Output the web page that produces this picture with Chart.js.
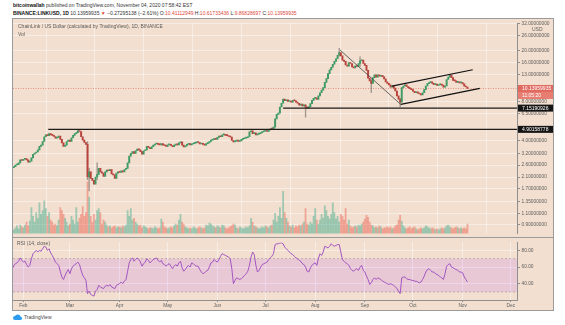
<!DOCTYPE html>
<html>
<head>
<meta charset="utf-8">
<script src="https://cdn.jsdelivr.net/npm/chart.js@4.4.0/dist/chart.umd.min.js"></script>
<style>
  body { margin: 0; background: #fff; width: 565px; height: 325px; overflow: hidden; position: relative;
         font-family: 'Liberation Sans', Arial, sans-serif; }
  .hdr { position: absolute; left: 13px; font-size: 5px; line-height: 6px; color: #333; white-space: nowrap; }
  .hdr b { color: #111; }
  .red { color: #e0463c; }
  #frame { position: absolute; left: 12px; top: 18px; width: 542px; height: 293px; box-sizing: border-box;
           border: 1px solid #9a9a9a; background: #f2dfcf; }
  #sep { position: absolute; left: 13px; top: 237px; width: 540px; height: 1px; background: #9a9a9a; }
  canvas { position: absolute; left: 13px; }
  #price { top: 19px; }
  #rsi { top: 238px; }
  #logo { position: absolute; left: 13px; top: 314px; font-size: 5px; color: #444; display: flex; align-items: center; gap: 2px; }
</style>
</head>
<body>
<div class="hdr" style="top:2px"><b>bitcoinwallah</b> published on TradingView.com, November 04, 2020 07:58:42 EST</div>
<div class="hdr" style="top:9.5px"><b>BINANCE:LINKUSD, 1D</b> 10.13959935 <span class="red">▼</span> −0.27295138 (−2.61%) O:<span class="red">10.41112949</span> H:<span class="red">10.61733436</span> L:<span class="red">9.86828697</span> C:<span class="red">10.13959935</span></div>
<div id="frame"></div>
<canvas id="price" width="540" height="219"></canvas>
<canvas id="rsi" width="540" height="72"></canvas>
<div id="sep"></div>
<div id="logo"><svg width="9" height="6" viewBox="0 0 18 12"><path d="M4 12 A4 4 0 0 1 4 4 A6 6 0 0 1 15 5 A3.5 3.5 0 0 1 14 12 Z" fill="#2d9cf0"/></svg><span>TradingView</span></div>
<script>
// day 0 = Feb 1 2020, first candle Jan 25
const firstDay = -7;
const firstOpen = 2.45;

const closes = [
  // Jan 25-31
  2.48, 2.52, 2.60, 2.62, 2.70, 2.85, 2.82,
  // Feb
  2.88, 2.92, 2.85, 2.74, 2.78, 2.95, 3.15, 3.22, 3.28, 3.40, 3.62, 3.70, 3.95, 4.30, 4.45,
  4.38, 4.55, 4.45, 4.40, 4.32, 4.20, 4.25, 4.35, 4.10, 3.85, 3.62, 3.70, 3.95, 4.05,
  // Mar
  3.95, 4.22, 4.40, 4.55, 4.62, 4.80, 4.72, 4.30, 4.05, 3.88, 3.75, 2.10, 2.30, 2.05, 1.98, 1.85,
  2.10, 2.20, 2.45, 2.30, 2.25, 2.12, 2.30, 2.38, 2.35, 2.40, 2.22, 2.18, 2.05, 2.25, 2.30,
  // Apr
  2.28, 2.35, 2.30, 2.40, 2.45, 2.70, 3.05, 3.20, 3.30, 3.20, 3.35, 3.45, 3.40, 3.30, 3.15,
  3.35, 3.40, 3.62, 3.55, 3.48, 3.60, 3.70, 3.78, 3.82, 3.75, 3.72, 3.80, 3.70, 3.68, 3.62,
  // May
  3.72, 3.75, 3.68, 3.60, 3.70, 3.78, 3.72, 3.85, 3.92, 3.70, 3.58, 3.65, 3.75, 3.80, 3.72, 3.78,
  3.82, 3.85, 3.90, 3.88, 3.78, 3.80, 3.75, 3.70, 3.80, 3.85, 3.95, 4.05, 4.08, 4.15, 4.10,
  // Jun
  4.25, 4.35, 4.30, 4.45, 4.48, 4.40, 4.38, 4.32, 4.28, 4.02, 3.92, 3.98, 4.05, 3.95, 4.00,
  4.10, 4.15, 4.20, 4.22, 4.30, 4.70, 4.78, 4.55, 4.60, 4.45, 4.50, 4.55, 4.62, 4.70, 4.75,
  // Jul
  4.78, 4.72, 4.85, 4.95, 4.92, 5.10, 5.90, 6.40, 6.55, 7.30, 7.80, 8.40, 8.15, 8.30, 8.05, 8.10,
  7.95, 8.20, 8.15, 7.95, 7.80, 7.55, 7.70, 7.45, 7.55, 7.30, 7.15, 7.35, 7.75, 8.20, 8.50,
  // Aug
  8.60, 8.35, 8.90, 9.40, 9.85, 10.30, 11.30, 12.10, 13.20, 14.10, 14.80, 15.60, 16.40, 17.20, 18.30, 19.20,
  18.10, 16.80, 16.40, 15.40, 15.10, 16.10, 15.80, 14.90, 14.60, 15.20, 15.00, 15.80, 16.60, 16.80, 15.80,
  // Sep
  15.30, 14.00, 12.20, 11.60, 11.10, 12.30, 12.90, 12.40, 12.90, 12.60, 12.80, 12.50, 12.00, 11.40, 11.10,
  10.80, 10.40, 10.60, 10.20, 9.70, 8.90, 8.40, 7.95, 10.30, 10.60, 10.80, 10.50, 10.30, 10.10, 9.95,
  // Oct
  9.65, 9.40, 9.55, 9.35, 9.20, 9.05, 9.40, 9.95, 10.60, 11.05, 11.25, 11.40, 11.10, 10.85, 10.95, 10.70,
  10.80, 10.90, 10.75, 10.40, 10.60, 11.90, 12.40, 12.85, 12.30, 11.70, 11.60, 11.30, 11.40, 11.20, 11.25,
  // Nov 1-4
  11.00, 10.55, 10.41, 10.14,
];

const volumes = [
  5, 4, 6, 8, 5, 9, 7,
  6, 9, 12, 8, 13, 27, 18, 12, 22, 16, 32, 20, 24, 34, 26, 18, 22, 14, 12, 9, 10, 8, 14, 27, 24, 20, 16, 12, 8,
  10, 18, 14, 10, 27, 12, 16, 20, 28, 18, 22, 54, 38, 18, 12, 20, 14, 24, 26, 22, 10, 14, 12, 9, 7, 8, 6, 7, 8, 6, 7,
  7, 6, 8, 7, 9, 24, 18, 26, 14, 16, 12, 10, 8, 9, 6, 8, 7, 6, 5, 6, 6, 5, 7, 6, 5, 6, 15, 12, 7, 6,
  5, 6, 7, 6, 8, 10, 9, 14, 20, 12, 10, 7, 6, 5, 6, 5, 7, 6, 5, 6, 7, 6, 5, 6, 9, 8, 11, 10, 8, 7, 6,
  8, 7, 6, 9, 8, 6, 5, 6, 7, 8, 10, 9, 6, 5, 7, 6, 5, 6, 7, 6, 8, 16, 12, 8, 7, 6, 5, 6, 7, 6,
  8, 7, 6, 8, 9, 14, 21, 12, 18, 27, 16, 44, 22, 16, 12, 8, 7, 9, 6, 8, 7, 9, 8, 10, 12, 26, 10, 9, 12, 10, 18,
  26, 14, 10, 14, 20, 16, 29, 24, 18, 15, 20, 32, 22, 15, 18, 12, 20, 18, 14, 26, 10, 14, 8, 6, 7, 8, 7, 9, 8, 10, 12,
  15, 19, 17, 12, 9, 8, 6, 7, 6, 8, 7, 5, 6, 6, 7, 6, 7, 5, 6, 8, 9, 14, 19, 13, 8, 6, 5, 6, 7, 5,
  6, 7, 5, 4, 5, 6, 5, 6, 8, 7, 6, 5, 6, 5, 4, 5, 4, 5, 6, 5, 6, 8, 9, 7, 6, 5, 6, 7, 6, 5, 6,
  5, 6, 5, 10,
];

const rsi = [
  60, 62, 64, 65, 67, 71, 68,
  66, 67, 63, 60, 62, 70, 76, 78, 80, 78, 80, 79, 82, 85, 84, 80, 82, 77, 74, 70, 66, 64, 62, 55, 48, 45, 50, 54, 57,
  52, 58, 61, 63, 64, 66, 63, 56, 50, 47, 44, 28, 31, 27, 26, 25, 31, 33, 38, 36, 35, 34, 37, 38, 37, 39, 36, 35, 34, 38, 39,
  40, 42, 40, 43, 45, 55, 65, 69, 71, 67, 69, 71, 69, 66, 61, 64, 66, 70, 68, 65, 67, 69, 70, 71, 68, 66, 68, 64, 63, 61,
  63, 64, 61, 58, 61, 63, 61, 65, 67, 59, 55, 57, 60, 62, 60, 65, 64, 62, 61, 61, 57, 54, 52, 53, 55, 56, 60, 65, 66, 69, 67,
  66, 69, 73, 76, 75, 74, 73, 72, 70, 58, 40, 44, 47, 46, 45, 46, 48, 50, 52, 55, 62, 72, 78, 75, 62, 54, 56, 60, 63, 64,
  65, 66, 69, 71, 73, 76, 87, 88, 88, 89, 89, 88, 84, 82, 80, 78, 76, 75, 73, 71, 70, 68, 67, 64, 63, 60, 55, 54, 59, 62, 64,
  65, 62, 70, 76, 74, 78, 85, 84, 83, 85, 88, 86, 85, 86, 87, 87, 78, 69, 67, 65, 64, 62, 58, 56, 55, 57, 58, 56, 60, 62, 56,
  54, 49, 45, 39, 41, 45, 47, 45, 47, 46, 45, 43, 42, 41, 40, 39, 40, 39, 38, 36, 34, 31, 28, 47, 48, 48, 46, 45, 45, 44,
  44, 43, 43, 42, 41, 42, 45, 49, 54, 57, 58, 56, 54, 54, 52, 51, 50, 48, 47, 45, 52, 61, 63, 64, 60, 59, 58, 57, 56, 54, 54,
  53, 48, 45, 42,
];

// notable wicks: [day, low, high]
const wicks = [
  [40, 2.0, 3.95], [41, 1.64, 2.45], [46, 2.0, 2.7], [176, 6.1, 7.6],
  [197, 18.0, 20.7], [210, 15.0, 17.8], [217, 9.4, 11.9], [235, 7.3, 8.5],
];

// drawn lines: [day1, price1, day2, price2]
const trendLines = [
  [197.5, 20.1, 235.4, 7.64],
  [235.4, 7.64, 284.7, 10.15],
  [229.8, 10.57, 280.3, 14.14],
];
// horizontal levels: [start day, price]
const levels = [[15.5, 4.90158778], [162, 7.15190926]];
const lastPrice = 10.13959935;
const countdown = '11:05:20';

const monthLabels = ['Feb', 'Mar', 'Apr', 'May', 'Jun', 'Jul', 'Aug', 'Sep', 'Oct', 'Nov', 'Dec'];
const monthDays = [0, 29, 60, 90, 121, 151, 182, 213, 243, 274, 304];
const priceTicks = [32, 26, 20, 16, 13, 8, 6.5, 4, 3.2, 2.6, 2.1, 1.7, 1.35, 1.1, 0.9];
const rsiTicks = [80, 60, 40];
const rsiBand = [70, 30];

Chart.defaults.font.family = "'Liberation Sans', Arial, sans-serif";

const GRID = 'rgba(255,255,255,0.45)';
const AXIS = '#8f8f8f';
const LABEL = '#5e5e5e';
const UP = '#3f9a64';
const DOWN = '#b8433d';
const VOL_UP = 'rgba(64,170,140,0.45)';
const VOL_DOWN = 'rgba(235,95,80,0.45)';
const X_MIN = -6.49, X_MAX = 308.2;
const AXIS_W = 35.5;

const days = closes.map((_, i) => firstDay + i);
const opens = closes.map((c, i) => (i ? closes[i - 1] : firstOpen));
const isUp = closes.map((c, i) => c >= opens[i]);

const seg = (x1, y1, x2, y2) => [{ x: x1, y: y1 }, { x: x2, y: y2 }];

// ── price pane ──
const priceLabels = {
  id: 'priceLabels',
  afterDraw(chart) {
    const { ctx, chartArea, scales: { y } } = chart;
    const x0 = chartArea.right + 0.5;
    const w = chart.width - x0;
    ctx.save();
    ctx.font = "5px 'Liberation Sans', Arial, sans-serif";
    ctx.textBaseline = 'middle';
    const box = (cy, text, bg, fg) => {
      ctx.fillStyle = bg;
      ctx.fillRect(x0, cy - 3.5, w, 7);
      ctx.fillStyle = fg;
      ctx.fillText(text, x0 + 4, cy + 0.3);
    };
    const py = y.getPixelForValue(lastPrice);
    box(py, lastPrice.toFixed(8), '#e06a60', '#fff');
    box(py + 7, countdown, '#e87d72', '#fff');
    levels.forEach(l => box(y.getPixelForValue(l[1]), l[1].toFixed(8), '#151515', '#fff'));
    ctx.fillStyle = LABEL;
    ctx.fillText('USD', x0 + 14, y.getPixelForValue(priceTicks[0]) + 5.5);
    ctx.fillStyle = '#5b5b5b';
    ctx.textBaseline = 'alphabetic';
    ctx.fillText('ChainLink / US Dollar (calculated by TradingView), 1D, BINANCE', 5, 9);
    ctx.fillText('Vol', 5, 17);
    ctx.restore();
  },
};

new Chart(document.getElementById('price'), {
  type: 'bar',
  data: {
    datasets: [
      ...trendLines.map((t, i) => ({
        type: 'line', data: seg(t[0], t[1], t[2], t[3]),
        borderColor: i === 0 ? '#444' : '#111', borderWidth: i === 0 ? 0.8 : 1.2, pointRadius: 0, order: 0,
      })),
      ...levels.map(l => ({
        type: 'line', data: seg(l[0], l[1], X_MAX, l[1]),
        borderColor: '#1c1c1c', borderWidth: 1.3, pointRadius: 0, order: 0,
      })),
      {
        data: days.map((d, i) => ({ x: d, y: [opens[i], closes[i]] })),
        backgroundColor: isUp.map(u => (u ? UP : DOWN)),
        barThickness: 1.3, minBarLength: 1, grouped: false, order: 1,
      },
      {
        data: wicks.map(w => ({ x: w[0], y: [w[1], w[2]] })),
        backgroundColor: 'rgba(110,100,95,0.6)', barThickness: 0.7, grouped: false, order: 2,
      },
      {
        type: 'line', data: seg(X_MIN, lastPrice, X_MAX, lastPrice),
        borderColor: 'rgba(226,104,92,0.85)', borderDash: [1, 1.5], borderWidth: 0.8, pointRadius: 0, order: 3,
      },
      {
        yAxisID: 'yv',
        data: days.map((d, i) => ({ x: d, y: volumes[i] })),
        backgroundColor: isUp.map(u => (u ? VOL_UP : VOL_DOWN)),
        barThickness: 1.2, grouped: false, order: 4,
      },
    ],
  },
  options: {
    responsive: false, animation: false, events: [],
    layout: { padding: 0 },
    plugins: { legend: { display: false }, tooltip: { enabled: false } },
    scales: {
      x: {
        type: 'linear', min: X_MIN, max: X_MAX, offset: false,
        afterBuildTicks: s => { s.ticks = monthDays.map(v => ({ value: v })); },
        afterFit: s => { s.height = 0; },
        ticks: { display: false },
        grid: { color: GRID, drawTicks: false },
        border: { display: false },
      },
      y: {
        type: 'logarithmic', position: 'right', min: 0.7678, max: 32.27,
        afterBuildTicks: s => { s.ticks = priceTicks.map(v => ({ value: v })); },
        afterFit: s => { s.width = AXIS_W; },
        ticks: { callback: v => Number(v).toFixed(8), font: { size: 4.8 }, color: LABEL, padding: 1.5, autoSkip: false },
        grid: { color: GRID, tickColor: AXIS, tickLength: 2.5 },
        border: { color: AXIS },
      },
      yv: { type: 'linear', display: false, min: 0, max: 218.7 },
    },
  },
  plugins: [priceLabels],
});

// ── RSI pane ──
const rsiTitle = {
  id: 'rsiTitle',
  afterDraw(chart) {
    const { ctx } = chart;
    ctx.save();
    ctx.font = "5px 'Liberation Sans', Arial, sans-serif";
    ctx.fillStyle = '#5b5b5b';
    ctx.fillText('RSI (14, close)', 4, 7);
    ctx.restore();
  },
};

new Chart(document.getElementById('rsi'), {
  type: 'line',
  data: {
    datasets: [
      {
        data: days.map((d, i) => ({ x: d, y: rsi[i] })),
        borderColor: '#9a48c0', borderWidth: 0.9, pointRadius: 0, order: 0,
      },
      {
        data: seg(X_MIN, rsiBand[0], X_MAX, rsiBand[0]),
        borderColor: 'rgba(140,130,140,0.7)', borderDash: [2, 2], borderWidth: 0.7, pointRadius: 0,
        fill: '+1', backgroundColor: 'rgba(153,21,255,0.11)', order: 1,
      },
      {
        data: seg(X_MIN, rsiBand[1], X_MAX, rsiBand[1]),
        borderColor: 'rgba(140,130,140,0.7)', borderDash: [2, 2], borderWidth: 0.7, pointRadius: 0, order: 2,
      },
    ],
  },
  options: {
    responsive: false, animation: false, events: [],
    layout: { padding: 0 },
    plugins: { legend: { display: false }, tooltip: { enabled: false } },
    scales: {
      x: {
        type: 'linear', min: X_MIN, max: X_MAX, offset: false,
        afterBuildTicks: s => { s.ticks = monthDays.map(v => ({ value: v })); },
        afterFit: s => { s.height = 10; },
        ticks: {
          callback: v => monthLabels[monthDays.indexOf(v)],
          font: { size: 4.8 }, color: LABEL, padding: 1, autoSkip: false, maxRotation: 0,
        },
        grid: { color: GRID, tickColor: AXIS, tickLength: 2 },
        border: { color: AXIS },
      },
      y: {
        type: 'linear', position: 'right', min: 20.33, max: 89.67,
        afterBuildTicks: s => { s.ticks = rsiTicks.map(v => ({ value: v })); },
        afterFit: s => { s.width = AXIS_W; },
        ticks: { callback: v => Number(v).toFixed(2), font: { size: 4.8 }, color: LABEL, padding: 1.5 },
        grid: { color: GRID, tickColor: AXIS, tickLength: 2.5 },
        border: { color: AXIS },
      },
    },
  },
  plugins: [rsiTitle],
});
</script>
</body>
</html>
